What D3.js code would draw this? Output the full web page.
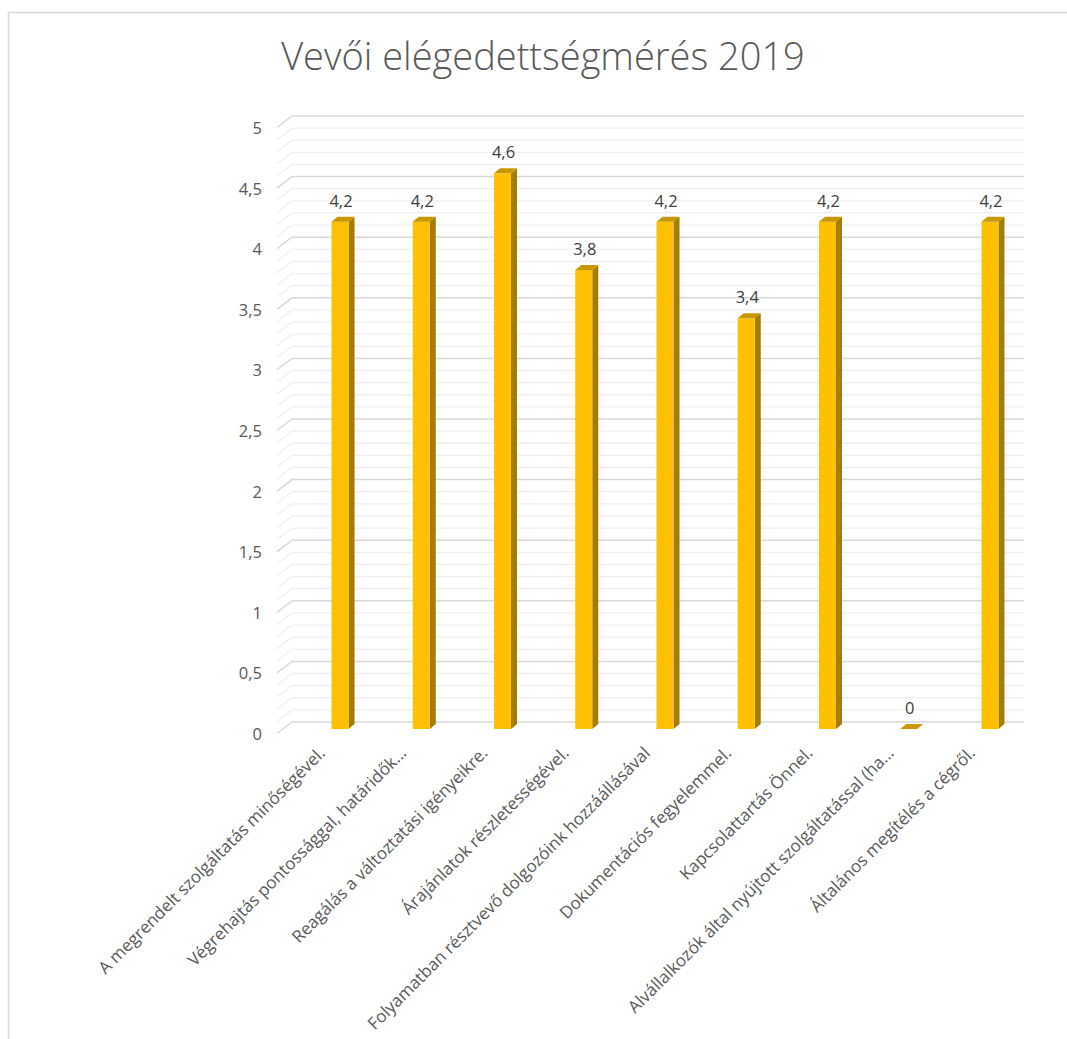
<!DOCTYPE html>
<html><head><meta charset="utf-8">
<script src="https://cdn.jsdelivr.net/npm/d3@7"></script>
<style>
html,body{margin:0;padding:0;background:#fff;}
svg{display:block;}
text{font-family:"Open Sans","Noto Sans",sans-serif;}
</style></head>
<body><div id="chart"></div>
<script>
const title = "Vevői elégedettségmérés 2019";
const categories = [
  "A megrendelt szolgáltatás minőségével.",
  "Végrehajtás pontossággal, határidők…",
  "Reagálás a változtatási igényeikre.",
  "Árajánlatok részletességével.",
  "Folyamatban résztvevő dolgozóink hozzáállásával",
  "Dokumentációs fegyelemmel.",
  "Kapcsolattartás Önnel.",
  "Alvállalkozók által nyújtott szolgáltatással (ha…",
  "Általános megítélés a cégről."
];
const values = [4.2, 4.2, 4.6, 3.8, 4.2, 3.4, 4.2, 0, 4.2];
const yTicks = [0, 0.5, 1, 1.5, 2, 2.5, 3, 3.5, 4, 4.5, 5];
const minorStep = 0.1;

const W = 1067, H = 1039;
const loc = d3.formatLocale({decimal: ",", thousands: " ", grouping: [3], currency: ["", ""]});
const fmt = loc.format("~g");

const svg = d3.select("#chart").append("svg").attr("width", W).attr("height", H);

// outer border
svg.append("rect").attr("x", 8.5).attr("y", 12.5).attr("width", W + 10).attr("height", H + 10)
  .attr("fill", "#fff").attr("stroke", "#d9d9d9").attr("stroke-width", 1.5);

// title
svg.append("text").attr("x", 543).attr("y", 70).attr("text-anchor", "middle")
  .attr("font-size", 38).attr("font-weight", 300).attr("fill", "#595959").text(title);

// 3D geometry
const depthX = 15, depthY = -11.5;          // front -> back wall offset
const backLeft = 292, backRight = 1024;
const yBack = d3.scaleLinear().domain([0, 5]).range([722, 116]);
const yBar = d3.scaleLinear().domain([0, 5]).range([729, 125]);
const x = d3.scaleBand().domain(categories).range([299.4, 1030.6]);

// gridlines (minor + major), with diagonal left wall
const gridVals = d3.range(0, 5 + 1e-9, minorStep).map(v => +v.toFixed(2));
const isMajor = v => Math.abs(v * 2 - Math.round(v * 2)) < 1e-6;
const g = svg.append("g");
gridVals.filter(v => !isMajor(v)).concat(gridVals.filter(isMajor)).forEach(v => {
  const yb = yBack(v);
  const major = isMajor(v);
  g.append("path")
    .attr("d", `M${backLeft - depthX},${yb - depthY} L${backLeft},${yb} L${backRight},${yb}`)
    .attr("fill", "none")
    .attr("stroke", major ? "#d9d9d9" : "#efefef")
    .attr("stroke-width", major ? 1.5 : 1.3);
});

// y tick labels
svg.append("g").selectAll("text").data(yTicks).join("text")
  .attr("x", 262).attr("y", d => yBack(d) - depthY + 2)
  .attr("text-anchor", "end").attr("dominant-baseline", "middle")
  .attr("font-size", 16.5).attr("fill", "#595959")
  .text(d => fmt(d));

// bars
const bw = 17, sdx = 6, sdy = -5;
const bars = svg.append("g").selectAll("g").data(values).join("g");
bars.each(function (v, i) {
  const cx = x(categories[i]) + x.bandwidth() / 2;
  const x0 = cx - bw / 2, x1 = cx + bw / 2;
  const yb = yBar(0), yt = yBar(v);
  const sel = d3.select(this);
  if (v > 0) {
    sel.append("path").attr("d", `M${x1},${yb} L${x1 + sdx},${yb + sdy} L${x1 + sdx},${yt + sdy} L${x1},${yt} Z`)
      .attr("fill", "#a67c00");
    sel.append("rect").attr("x", x0).attr("y", yt).attr("width", bw).attr("height", yb - yt)
      .attr("fill", "#ffc000");
  }
  sel.append("path").attr("d", `M${x0},${yt} L${x0 + sdx},${yt + sdy} L${x1 + sdx},${yt + sdy} L${x1},${yt} Z`)
    .attr("fill", "#c99800");
  sel.append("text").attr("x", cx + 1).attr("y", yt - 15).attr("text-anchor", "middle")
    .attr("font-size", 16.5).attr("fill", "#404040").text(fmt(v));
});

// category labels
svg.append("g").selectAll("text").data(categories).join("text")
  .attr("transform", d => `translate(${x(d) + x.bandwidth() / 2 - 18},${750}) rotate(-45)`)
  .attr("text-anchor", "end").attr("dy", "0.35em")
  .attr("font-size", 17).attr("fill", "#595959")
  .text(d => d);
</script></body></html>
